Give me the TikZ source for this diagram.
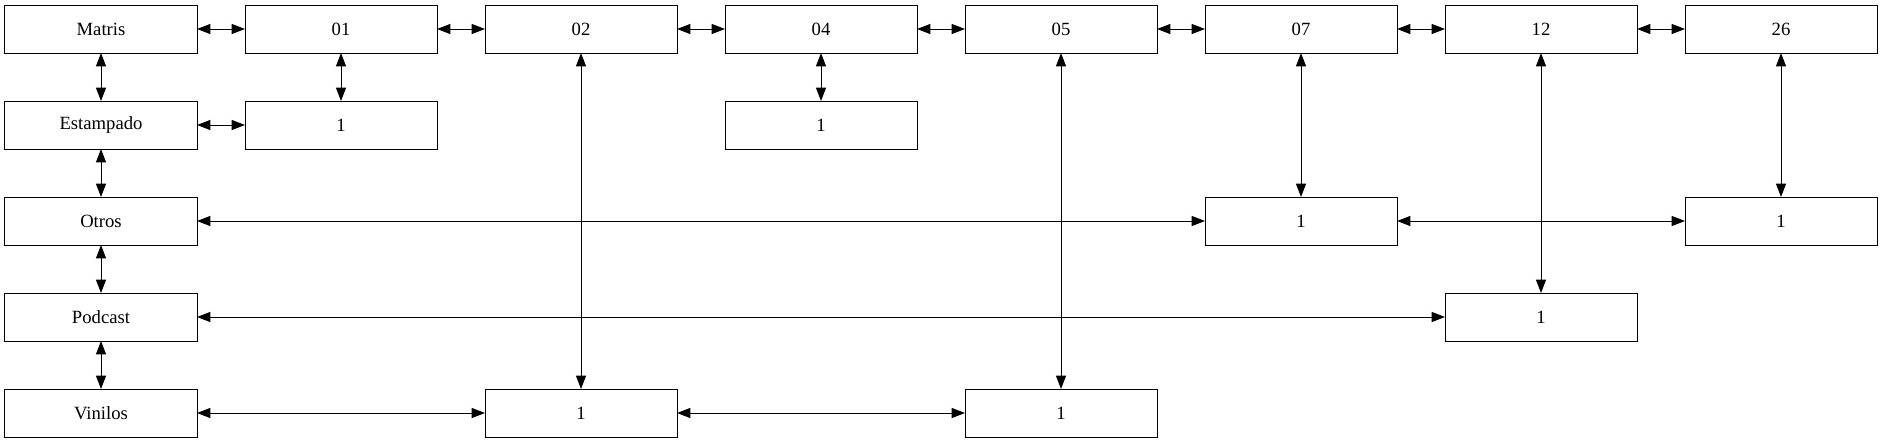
\documentclass[tikz,border=0pt]{standalone}
\usepackage{fontspec}
\setmainfont{Liberation Serif}
\usetikzlibrary{positioning, arrows.meta}

\begin{document}
\begin{tikzpicture}[
			boxStyle/.style={draw, line width=0.75pt, align=center, rectangle, minimum width=144pt, minimum height=36pt, inner sep=0pt, outer sep=0pt, font=\fontsize{14}{16}\selectfont},
			linkStyle/.style={{Triangle[length=10pt, width=7.5pt]}-{Triangle[length=10pt, width=7.5pt]}, line width=0.75pt},]
			
			\begin{scope}[every node/.style={boxStyle}]
				\node (matris) {Matris};
				\node[right=36pt of matris] (c01) {01};
				\node[right=36pt of c01] (c02) {02};
				\node[right=36pt of c02] (c04) {04};
				\node[right=36pt of c04] (c05) {05};
				\node[right=36pt of c05] (c07) {07};
				\node[right=36pt of c07] (c12) {12};
				\node[right=36pt of c12] (c26) {26};
				
				\node[below=36pt of matris] (estampado) {Estampado};
				\node[below=36pt of estampado] (otros) {Otros};
				\node[below=36pt of otros] (podcast) {Podcast};
				\node[below=36pt of podcast] (vinilos) {Vinilos};
				
				\node[below=36pt of c01] (c01x) {1};
				\node[below=36pt of c04] (c04x) {1};
				\node (c07x) at (c07 |- otros) {1};
				\node (c26x) at (c26 |- otros) {1};
				\node (c12x) at (c12 |- podcast) {1};
				\node (c02x) at (c02 |- vinilos) {1};
				\node (c05x) at (c05 |- vinilos) {1};
			\end{scope}
			
			\useasboundingbox ([xshift=-3.75pt, yshift=3.75pt]matris.north west) rectangle ++(1412.25pt, -332.25pt);
			
			\foreach \a/\b in {matris/c01, c01/c02, c02/c04, c04/c05, c05/c07, c07/c12, c12/c26}
			\draw[linkStyle] (\a) -- (\b);
			\foreach \a/\b in {matris/estampado, estampado/otros, otros/podcast, podcast/vinilos}
			\draw[linkStyle] (\a) -- (\b);
			\foreach \value in {01, 02, 04, 05, 07, 12, 26}
			\draw[linkStyle] (c\value) -- (c\value x);
			
			\draw[linkStyle] (estampado) -- (c01x);
			\draw[linkStyle] (otros) -- (c07x);
			\draw[linkStyle] (c07x) -- (c26x);
			\draw[linkStyle] (podcast) -- (c12x);
			\draw[linkStyle] (vinilos) -- (c02x);
			\draw[linkStyle] (c02x) -- (c05x);
		\end{tikzpicture}
\end{document}
